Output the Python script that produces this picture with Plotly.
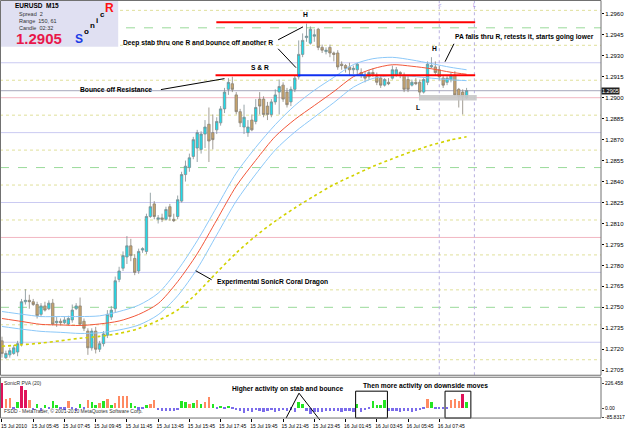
import plotly.graph_objects as go

# ---------------- data ----------------
bars = list(range(120))

open_ = [1.2726,1.2714,1.2716,1.2717,1.2718,1.2724,1.2754,1.2755,1.2754,1.2752,
         1.2745,1.2751,1.2749,1.2753,1.2739,1.2740,1.2739,1.2738,1.2741,1.2749,
         1.2751,1.2740,1.2733,1.2721,1.2733,1.2720,1.2724,1.2730,1.2743,1.2749,
         1.2770,1.2778,1.2786,1.2794,1.2785,1.2776,1.2791,1.2790,1.2815,1.2824,
         1.2813,1.2814,1.2813,1.2822,1.2813,1.2815,1.2826,1.2845,1.2850,1.2858,
         1.2864,1.2863,1.2874,1.2881,1.2875,1.2877,1.2882,1.2892,1.2906,1.2910,
         1.2902,1.2890,1.2879,1.2875,1.2884,1.2883,1.2899,1.2899,1.2894,1.2888,
         1.2897,1.2904,1.2909,1.2904,1.2897,1.2906,1.2915,1.2931,1.2943,1.2939,
         1.2944,1.2949,1.2936,1.2933,1.2936,1.2932,1.2932,1.2924,1.2923,1.2922,
         1.2920,1.2920,1.2918,1.2916,1.2915,1.2918,1.2915,1.2914,1.2909,1.2911,
         1.2914,1.2916,1.2918,1.2916,1.2913,1.2909,1.2911,1.2911,1.2904,1.2911,
         1.2922,1.2922,1.2920,1.2914,1.2911,1.2913,1.2916,1.2906,1.2904,1.2900]
high = [1.2729,1.2719,1.2721,1.2723,1.2726,1.2756,1.2763,1.2759,1.2756,1.2754,
        1.2753,1.2754,1.2755,1.2756,1.2743,1.2742,1.2743,1.2744,1.2752,1.2753,
        1.2757,1.2742,1.2735,1.2735,1.2736,1.2726,1.2733,1.2748,1.2751,1.2772,
        1.2779,1.2790,1.2801,1.2799,1.2788,1.2792,1.2793,1.2817,1.2832,1.2826,
        1.2816,1.2817,1.2822,1.2824,1.2817,1.2830,1.2847,1.2855,1.2860,1.2872,
        1.2877,1.2876,1.2884,1.2893,1.2888,1.2886,1.2894,1.2907,1.2914,1.2915,
        1.2904,1.2892,1.2895,1.2884,1.2888,1.2899,1.2904,1.2901,1.2897,1.2899,
        1.2906,1.2913,1.2911,1.2907,1.2908,1.2916,1.2941,1.2946,1.2953,1.2951,
        1.2949,1.2950,1.2938,1.2936,1.2938,1.2933,1.2934,1.2926,1.2924,1.2925,
        1.2923,1.2925,1.2921,1.2919,1.2920,1.2921,1.2918,1.2916,1.2914,1.2914,
        1.2923,1.2922,1.2919,1.2918,1.2916,1.2913,1.2914,1.2913,1.2914,1.2926,
        1.2929,1.2926,1.2923,1.2916,1.2916,1.2918,1.2919,1.2907,1.2906,1.2907]
low = [1.2714,1.2713,1.2714,1.2716,1.2715,1.2722,1.2752,1.2749,1.2751,1.2742,
       1.2743,1.2747,1.2748,1.2737,1.2736,1.2737,1.2738,1.2737,1.2739,1.2748,
       1.2737,1.2733,1.2716,1.2719,1.2717,1.2718,1.2722,1.2728,1.2741,1.2746,
       1.2768,1.2776,1.2781,1.2783,1.2773,1.2774,1.2789,1.2788,1.2814,1.2813,
       1.2810,1.2811,1.2812,1.2812,1.2811,1.2813,1.2825,1.2840,1.2847,1.2856,
       1.2854,1.2860,1.2864,1.2854,1.2863,1.2874,1.2880,1.2889,1.2902,1.2904,
       1.2888,1.2879,1.2874,1.2872,1.2876,1.2881,1.2888,1.2886,1.2884,1.2886,
       1.2895,1.2888,1.2897,1.2893,1.2894,1.2904,1.2913,1.2929,1.2940,1.2938,
       1.2940,1.2934,1.2932,1.2931,1.2929,1.2926,1.2920,1.2920,1.2918,1.2916,
       1.2917,1.2916,1.2914,1.2911,1.2913,1.2915,1.2909,1.2907,1.2908,1.2909,
       1.2913,1.2915,1.2914,1.2904,1.2904,1.2908,1.2909,1.2901,1.2903,1.2909,
       1.2921,1.2916,1.2913,1.2907,1.2909,1.2911,1.2901,1.2893,1.2888,1.2899]
close = [1.2717,1.2717,1.2719,1.2721,1.2724,1.2754,1.2755,1.2754,1.2752,1.2744,
         1.2751,1.2748,1.2753,1.2738,1.2740,1.2739,1.2741,1.2742,1.2748,1.2751,
         1.2738,1.2735,1.2721,1.2733,1.2720,1.2724,1.2731,1.2745,1.2748,1.2769,
         1.2776,1.2787,1.2794,1.2787,1.2775,1.2790,1.2792,1.2815,1.2822,1.2815,
         1.2814,1.2813,1.2820,1.2815,1.2812,1.2827,1.2845,1.2851,1.2857,1.2870,
         1.2875,1.2874,1.2879,1.2869,1.2870,1.2883,1.2892,1.2904,1.2911,1.2906,
         1.2890,1.2882,1.2886,1.2879,1.2877,1.2893,1.2894,1.2888,1.2888,1.2897,
         1.2902,1.2908,1.2899,1.2895,1.2906,1.2914,1.2931,1.2941,1.2944,1.2949,
         1.2945,1.2936,1.2934,1.2934,1.2932,1.2931,1.2922,1.2923,1.2921,1.2920,
         1.2921,1.2924,1.2916,1.2914,1.2918,1.2917,1.2911,1.2909,1.2913,1.2910,
         1.2920,1.2920,1.2917,1.2906,1.2906,1.2911,1.2910,1.2904,1.2913,1.2924,
         1.2923,1.2918,1.2915,1.2909,1.2914,1.2916,1.2902,1.2901,1.2901,1.2905]

# SonicR bands (at these bar indices)
ma_idx = [0,5,10,15,20,25,30,35,40,45,50,55,60,65,70,75,80,85,90,95,100,105,110,115,119]
ema_close = [1.27420,1.27399,1.27378,1.27374,1.27370,1.27381,1.27402,1.27449,1.27527,1.27684,
             1.27883,1.28125,1.28367,1.28552,1.28723,1.28844,1.28944,1.29044,1.29150,1.29207,
             1.29236,1.29225,1.29207,1.29182,1.29168]
ema_high = [1.27470,1.27451,1.27434,1.27434,1.27434,1.27439,1.27470,1.27515,1.27601,1.27766,
            1.27976,1.28218,1.28460,1.28645,1.28807,1.28944,1.29053,1.29146,1.29237,1.29279,
            1.29289,1.29270,1.29244,1.29217,1.29200]
ema_low = [1.27363,1.27344,1.27328,1.27321,1.27313,1.27318,1.27338,1.27373,1.27447,1.27583,
           1.27776,1.28018,1.28260,1.28453,1.28626,1.28754,1.28861,1.28965,1.29075,1.29138,
           1.29158,1.29153,1.29140,1.29128,1.29122]
dragon = [1.27221,1.27232,1.27244,1.27261,1.27279,1.27292,1.27313,1.27348,1.27406,1.27481,
          1.27603,1.27749,1.27889,1.28011,1.28117,1.28211,1.28297,1.28378,1.28444,1.28508,
          1.28563,1.28615,1.28661,1.28698,1.28720]

# SonicR PVA (20) histogram
pva = [226,84,88,-10,55,199,166,70,-24,36,
       -28,30,-12,60,22,-8,-15,60,-12,-30,
       36,-10,70,55,25,45,60,80,30,40,
       112,112,105,45,20,-15,-12,30,36,72,
       -20,-28,-32,-30,-25,-20,60,55,36,40,
       70,36,55,97,36,-10,8,-6,10,-8,
       -22,-30,-45,-28,-35,-22,-30,-38,-25,-22,
       -35,-28,-20,-30,-15,-35,55,36,-25,-60,
       -40,-40,-35,-30,-32,-25,-30,-35,-32,-28,
       -40,36,-35,-20,-12,60,30,30,70,-25,
       -30,-28,-35,-30,-25,-38,-30,-20,-10,80,
       55,-8,-12,-5,-10,70,80,60,127,55]
pva_kind = ["c","s","s","b","g","c","c","s","b","g",
            "b","g","b","g","g","b","b","s","b","b",
            "g","b","s","g","g","s","g","s","g","s",
            "s","s","s","g","g","b","b","g","s","s",
            "b","b","b","b","b","b","g","g","s","g",
            "s","g","s","s","g","b","g","b","g","b",
            "b","b","b","b","b","b","b","b","b","b",
            "b","b","b","b","b","b","g","g","b","b",
            "b","b","b","b","b","b","b","b","b","b",
            "b","g","b","b","b","g","g","g","g","b",
            "b","b","b","b","b","b","b","b","b","s",
            "g","b","b","b","b","s","s","s","c","g"]
pva_range = [-85.8317, 226.458]

time_ticks = [0,8,16,24,32,40,48,56,64,72,80,88,96,104,112]
time_labels = ["15 Jul 2010","15 Jul 05:45","15 Jul 07:45","15 Jul 09:45","15 Jul 11:45",
               "15 Jul 13:45","15 Jul 15:45","15 Jul 17:45","15 Jul 19:45","15 Jul 21:45",
               "15 Jul 23:45","16 Jul 01:45","16 Jul 03:45","16 Jul 05:45","16 Jul 07:45"]
price_ticks = [1.2705,1.2720,1.2735,1.2750,1.2765,1.2780,1.2795,1.2810,1.2825,
               1.2840,1.2855,1.2870,1.2885,1.2900,1.2915,1.2930,1.2945,1.2960]
price_labels = ["1.2705","1.2720","1.2735","1.2750","1.2765","1.2780","1.2795","1.2810","1.2825",
                "1.2840","1.2855","1.2870","1.2885","1.2900","1.2915","1.2930","1.2945","1.2960"]

level_prices = [1.27125,1.2725,1.27375,1.2750,1.27625,1.2775,1.27875,1.2800,1.28125,1.2825,
                1.28375,1.2850,1.28625,1.2875,1.28875,1.2900,1.29125,1.2925,1.29375,1.2950,1.29625]
level_kinds = ["q","l","q","h","q","l","q","r","q","l","q","h","q","l","q","r","q","l","q","h","q"]

last_price = 1.2905
high_R = 1.2954
sr_level = 1.2916
box_lo, box_hi = 1.2898, 1.2902

# ---------------- figure ----------------
W, H = 625, 429
PR = 605.0   # right edge of plot area (px)
def px(x): return x / PR
def py(y): return 1 - y / H

FONT = "Liberation Sans"
fig = go.Figure()

fig.add_trace(go.Candlestick(
    x=bars, open=open_, high=high, low=low, close=close,
    increasing=dict(fillcolor="#1EDCEA", line=dict(color="#7E8E92", width=0.8)),
    decreasing=dict(fillcolor="#C9A46A", line=dict(color="#8A8478", width=0.8)),
    whiskerwidth=0, showlegend=False, hoverinfo="skip", xaxis="x", yaxis="y"))

for ys, col, dash, w in [(ema_high, "#8CC8F8", "solid", 1),
                         (ema_low, "#8CC8F8", "solid", 1),
                         (ema_close, "#F2573A", "solid", 1),
                         (dragon, "#D2D200", "dot", 1.6)]:
    fig.add_trace(go.Scatter(x=ma_idx, y=ys, mode="lines",
                             line=dict(color=col, width=w, dash=dash, shape="spline", smoothing=0.8),
                             showlegend=False, hoverinfo="skip", xaxis="x", yaxis="y"))

cmap = {"c": "#E0125A", "s": "#FF8A62", "g": "#22E622", "b": "#7B6CEB"}
fig.add_trace(go.Bar(x=bars, y=pva, marker=dict(color=[cmap[k] for k in pva_kind], line=dict(width=0)),
                     width=0.62, showlegend=False, hoverinfo="skip", xaxis="x", yaxis="y2"))

shapes = []
sty = {"q": ("#E0E09A", "dot"), "l": ("#CACAF2", "solid"), "h": ("#9ADA9A", "dash"), "r": ("#F2B6C2", "solid")}
for lv, k in zip(level_prices, level_kinds):
    c, d = sty[k]
    shapes.append(dict(type="line", xref="paper", yref="y", x0=0, x1=1, y0=lv, y1=lv,
                       line=dict(color=c, width=1, dash=d), layer="below"))
# vertical separators
for vx in [112, 121]:
    shapes.append(dict(type="line", xref="x", yref="paper", x0=vx, x1=vx, y0=py(377), y1=py(1),
                       line=dict(color="#B8B0E0", width=1, dash="dot"), layer="below"))
# bid line
shapes.append(dict(type="line", xref="paper", yref="y", x0=0, x1=1, y0=last_price, y1=last_price,
                   line=dict(color="#A8A8BC", width=1), layer="below"))
# resistance / support objects
shapes.append(dict(type="line", xref="x", yref="y", x0=54.9, x1=121.2, y0=high_R, y1=high_R,
                   line=dict(color="#FF0000", width=2)))
shapes.append(dict(type="line", xref="x", yref="y", x0=54.7, x1=75.8, y0=sr_level, y1=sr_level,
                   line=dict(color="#FF0000", width=2)))
shapes.append(dict(type="line", xref="x", yref="y", x0=75.8, x1=93.2, y0=sr_level, y1=sr_level,
                   line=dict(color="#1030F0", width=2)))
shapes.append(dict(type="line", xref="x", yref="y", x0=93.2, x1=121.2, y0=sr_level, y1=sr_level,
                   line=dict(color="#FF0000", width=2)))
shapes.append(dict(type="rect", xref="x", yref="y", x0=106.8, x1=121.6, y0=box_lo, y1=box_hi,
                   fillcolor="#C8C8C8", line=dict(width=0), opacity=0.9))

def pline(x0, y0, x1, y1, w=1):
    shapes.append(dict(type="line", xref="paper", yref="paper", x0=px(x0), y0=py(y0),
                       x1=px(x1), y1=py(y1), line=dict(color="black", width=w)))
pline(280, 40, 305, 27)
pline(280, 49, 298, 68)
pline(162, 90, 226, 79)
pline(448, 62, 457, 44)
pline(197, 272, 213, 281)
pline(288, 420, 301, 395)
pline(301, 395, 322, 422)
for (a, b, c, d) in [(358, 393, 390, 420), (448, 393, 474, 420)]:
    shapes.append(dict(type="rect", xref="paper", yref="paper", x0=px(a), x1=px(c), y0=py(d), y1=py(b),
                       line=dict(color="black", width=1)))
# info panel
shapes.append(dict(type="rect", xref="paper", yref="paper", x0=0, x1=px(119), y0=py(47), y1=py(1),
                   fillcolor="#E0E0F2", line=dict(width=0)))
# window frames
shapes.append(dict(type="rect", xref="paper", yref="paper", x0=px(0.5), x1=1, y0=py(377), y1=py(0.5),
                   line=dict(color="#707070", width=1)))
shapes.append(dict(type="rect", xref="paper", yref="paper", x0=px(0.5), x1=1, y0=py(420), y1=py(379),
                   line=dict(color="#707070", width=1)))

ann = []
def txt(x, y, t, size=6.7, xanchor="center", color="black", bold=True, yanchor="middle", yref="paper"):
    ann.append(dict(x=px(x), y=py(y) if yref == "paper" else y, xref="paper", yref=yref,
                    text=("<b>%s</b>" % t) if bold else t, showarrow=False,
                    xanchor=xanchor, yanchor=yanchor,
                    font=dict(family=FONT, size=size, color=color)))

txt(308, 15, "H")
txt(277, 43, "Deep stab thru one R and bounce off another R", xanchor="right")
txt(262, 68, "S &amp; R")
txt(155, 90, "Bounce off Resistance", xanchor="right")
txt(456, 37, "PA falls thru R, retests it, starts going lower", xanchor="left")
txt(437, 49, "H")
txt(421, 108, "L")
txt(216, 283, "Experimental SonicR Coral Dragon", xanchor="left")
txt(232, 391, "Higher activity on stab and bounce", xanchor="left")
txt(363, 388, "Then more activity on downside moves", xanchor="left")

# info panel texts
txt(13, 6, "EURUSD  M15", size=6.5, xanchor="left")
txt(17, 14.5, "Spread  2", size=5.5, xanchor="left", bold=False, color="#333333")
txt(17, 21, "Range  150, 61", size=5.5, xanchor="left", bold=False, color="#333333")
txt(17, 28, "Candle  02:32", size=5.5, xanchor="left", bold=False, color="#333333")
txt(14, 39, "1.2905", size=15, xanchor="left", color="#E8174A")
txt(80, 39, "S", size=12, color="#1A3CE6")
txt(87, 32, "o", size=8)
txt(93, 26, "n", size=8)
txt(98, 21, "i", size=8)
txt(103, 15, "c", size=8)
txt(110, 8, "R", size=12, color="#FF1010")

# sub window labels
txt(2, 385, "SonicR PVA (20)", size=5, xanchor="left", bold=False, color="#303030")
txt(2, 413, "FSDD - MetaTrader, © 2001-2010 MetaQuotes Software Corp.", size=5, xanchor="left",
    bold=False, color="#303030")
# purple markers at top
txt(443, 5, "&lt;", size=6, color="#9A80E0", bold=False)
txt(478, 5, "L", size=5, color="#9A80E0", bold=False)

# current price tag on the price scale
ann.append(dict(x=1.0, y=last_price, xref="paper", yref="y", text="1.2905", showarrow=False,
                xanchor="left", yanchor="middle", bgcolor="#202020", borderpad=0,
                font=dict(family=FONT, size=5.5, color="white")))

fig.update_layout(
    width=W, height=H, margin=dict(l=0, r=20, t=0, b=0),
    paper_bgcolor="white", plot_bgcolor="white", showlegend=False,
    shapes=shapes, annotations=ann, bargap=0, boxgap=0.12,
    xaxis=dict(range=[-0.509, 153.43], anchor="y2", tickvals=time_ticks, ticktext=time_labels,
               tickfont=dict(family=FONT, size=5, color="black"), ticks="outside", ticklen=3,
               tickcolor="black", showgrid=False, zeroline=False, showline=False,
               rangeslider=dict(visible=False), ticklabelshift=12, fixedrange=True),
    yaxis=dict(domain=[1 - 377 / H, 1 - 1 / H], range=[1.27014, 1.29692], side="right",
               tickvals=price_ticks, ticktext=price_labels,
               tickfont=dict(family=FONT, size=6, color="black"), ticks="outside", ticklen=2,
               tickcolor="black", showgrid=False, zeroline=False, showline=False),
    yaxis2=dict(domain=[1 - 420 / H, 1 - 379 / H], range=[-90.6, 280.8], side="right",
                tickvals=[pva_range[1], 0, pva_range[0]], ticktext=["226.458", "0.00", "-85.8317"],
                tickfont=dict(family=FONT, size=5, color="black"), ticks="outside", ticklen=2,
                showgrid=False, zeroline=False, showline=False),
)
fig.write_html("out.html")
